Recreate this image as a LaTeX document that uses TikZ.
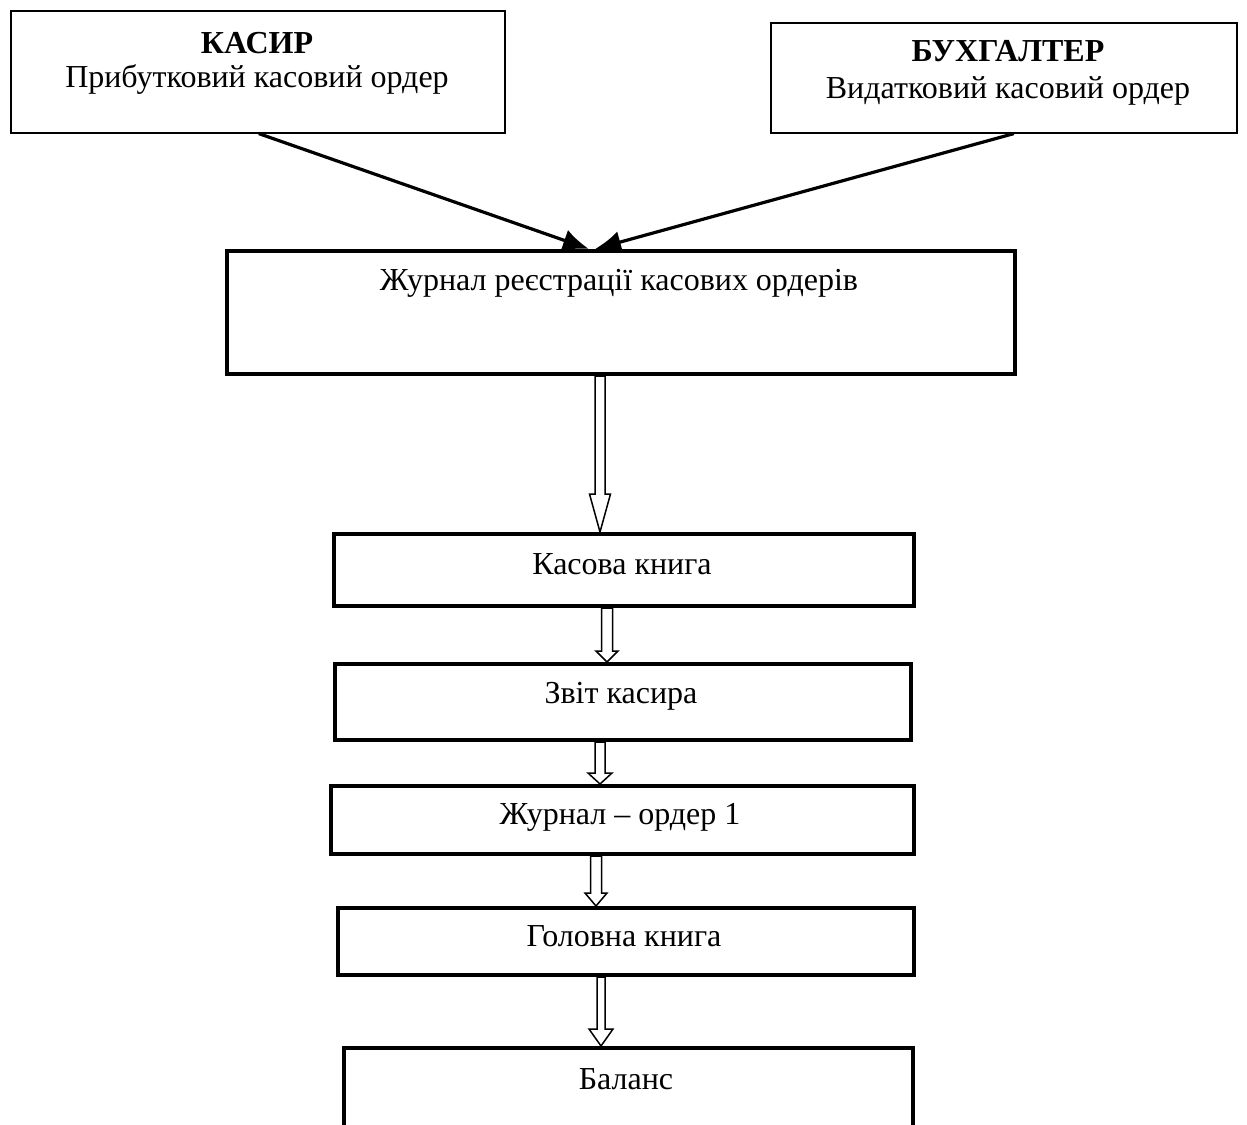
\documentclass[tikz,border=0pt]{standalone}
\usepackage{fontspec}
\setmainfont{Liberation Serif}
\usetikzlibrary{calc,arrows.meta}
\newcommand\hollowarrow[6]{% from, to, x, shaft half-width, head half-width, head length
  \draw[hollow] let \p1=(#1.south), \p2=(#2.north) in
    (#3pt-#4pt,\y1) -- (#3pt-#4pt,\y2+#6pt) -- (#3pt-#5pt,\y2+#6pt) -- (#3pt,\y2)
    -- (#3pt+#5pt,\y2+#6pt) -- (#3pt+#4pt,\y2+#6pt) -- (#3pt+#4pt,\y1) -- cycle;}
\begin{document}
\begin{tikzpicture}[x=1pt,y=-1pt,
  thinbox/.style={draw,line width=1.6pt,anchor=north west,inner sep=0pt},
  thickbox/.style={draw,line width=4pt,anchor=north west,inner sep=0pt},
  lbl/.style={font=\fontsize{32}{38}\selectfont,inner sep=0pt},
  blbl/.style={font=\fontsize{32}{38}\selectfont\bfseries,inner sep=0pt},
  diag/.style={line width=3.2pt,-{Latex[length=26pt,width=22pt]}},
  hollow/.style={line width=1.5pt,fill=white,line join=miter}]
\useasboundingbox (0,0) rectangle (1247,1124);
\clip (0,0) rectangle (1247,1124);
\fill[white] (0,0) rectangle (1247,1124);
% boxes
\node[thinbox,minimum width=494pt,minimum height=122pt] (kasyr) at (10,10) {};
\node[thinbox,minimum width=466pt,minimum height=110pt] (bukh) at (770,22) {};
\node[thickbox,minimum width=788pt,minimum height=123pt] (journal) at (225,249) {};
\node[thickbox,minimum width=580pt,minimum height=72pt] (kasova) at (332,532) {};
\node[thickbox,minimum width=576pt,minimum height=76pt] (zvit) at (333,662) {};
\node[thickbox,minimum width=583pt,minimum height=68pt] (jo) at (329,784) {};
\node[thickbox,minimum width=576pt,minimum height=67pt] (holovna) at (336,906) {};
\node[thickbox,minimum width=569pt,minimum height=120pt] (balans) at (342,1046) {};
% texts
\node[blbl] (t1a) at (257,43) {КАСИР};
\node[lbl] (t1b) at (257,79) {Прибутковий касовий ордер};
\node[blbl] (t2a) at (1008,51) {БУХГАЛТЕР};
\node[lbl] (t2b) at (1008,91) {Видатковий касовий ордер};
\node[lbl] (t3) at (619,283) {Журнал реєстрації касових ордерів};
\node[lbl] (t4) at (622,564) {Касова книга};
\node[lbl] (t5) at (621,696) {Звіт касира};
\node[lbl] (t6) at (620,817) {Журнал – ордер 1};
\node[lbl] (t7) at (624,936) {Головна книга};
\node[lbl] (t8) at (626,1079) {Баланс};
% diagonal arrows
\coordinate (tipA) at (589,249);
\coordinate (tipB) at (595,249);
\draw[diag] ([xshift=1pt]kasyr.south) -- (tipA);
\draw[diag] ([xshift=10pt]bukh.south) -- (tipB);
% hollow arrows
\hollowarrow{journal}{kasova}{600}{5}{10.5}{38}
\hollowarrow{kasova}{zvit}{607}{5.5}{11}{11}
\hollowarrow{zvit}{jo}{600}{5}{12}{11}
\hollowarrow{jo}{holovna}{596}{5.5}{11}{13}
\hollowarrow{holovna}{balans}{601}{4}{12}{17}
\end{tikzpicture}
\end{document}
